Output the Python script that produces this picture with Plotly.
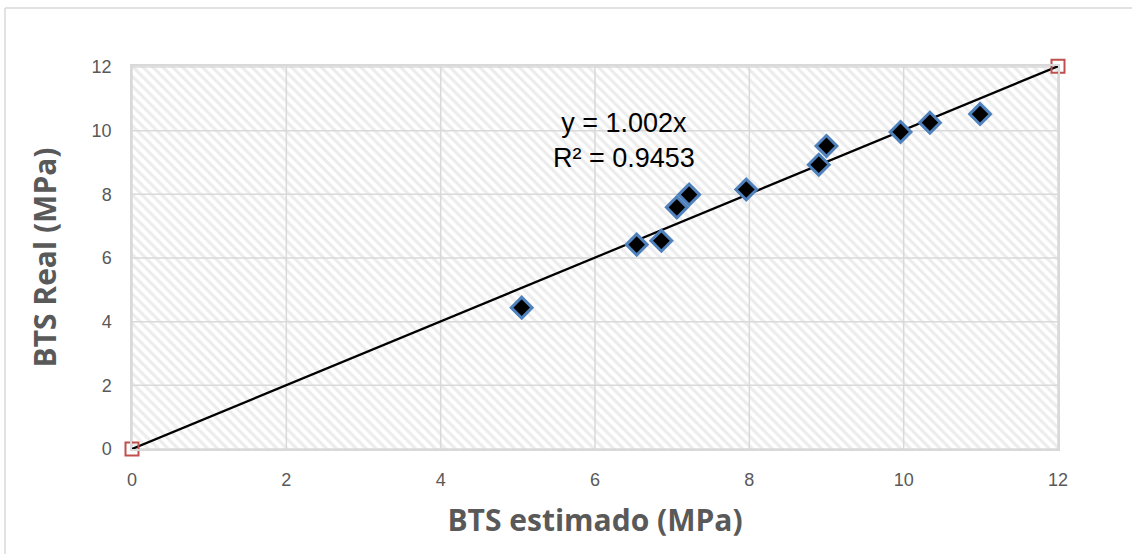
import plotly.graph_objects as go

# BTS estimado vs BTS real (MPa)
bts_estimado = [5.05, 6.54, 6.86, 7.06, 7.22, 7.96, 8.90, 9.00, 9.96, 10.34, 10.99]
bts_real = [4.44, 6.42, 6.54, 7.59, 7.99, 8.15, 8.93, 9.52, 9.96, 10.25, 10.52]

# Linear trend through the origin
slope = 1.002
r2 = 0.9453
trend_x = [0, 12]
tick_vals = [0, 2, 4, 6, 8, 10, 12]

W, H = 1132, 554
L, R, T, B = 132, 74, 66, 105
X_MAX, Y_MAX = 12, 12.03

fig = go.Figure()

# Hatched plot-area background
fig.add_trace(go.Scatter(
    x=[0, X_MAX, X_MAX, 0, 0], y=[0, 0, Y_MAX, Y_MAX, 0],
    mode="lines", line=dict(width=0, color="rgba(0,0,0,0)"),
    fill="toself", fillcolor="white",
    fillpattern=dict(shape="\\", fgcolor="#dadada", bgcolor="white", size=7, solidity=0.45),
    hoverinfo="skip", showlegend=False,
))

# Major gridlines drawn over the hatching
gx, gy = [], []
for v in tick_vals:
    gx += [v, v, None]
    gy += [0, Y_MAX, None]
    gx += [0, X_MAX, None]
    gy += [v, v, None]
fig.add_trace(go.Scatter(
    x=gx, y=gy, mode="lines", line=dict(color="#d9d9d9", width=1.5),
    hoverinfo="skip", showlegend=False,
))

# Trend line with square end markers
fig.add_trace(go.Scatter(
    x=trend_x, y=[slope * v for v in trend_x],
    mode="lines", line=dict(color="black", width=2.25),
    showlegend=False,
))
fig.add_trace(go.Scatter(
    x=trend_x, y=[slope * v for v in trend_x],
    mode="markers",
    marker=dict(symbol="square-open", size=13, color="#c0504d", line=dict(width=2)),
    cliponaxis=False, showlegend=False,
))

# Measured points
fig.add_trace(go.Scatter(
    x=bts_estimado, y=bts_real, mode="markers",
    marker=dict(symbol="diamond", size=16, color="black",
                line=dict(color="#4f81bd", width=3)),
    cliponaxis=False, showlegend=False,
))

fig.add_annotation(
    x=6.37, y=9.68, xref="x", yref="y",
    text=f"y = {slope:.3f}x<br>R² = {r2:.4f}",
    showarrow=False, align="center",
    font=dict(family="Liberation Sans", size=27, color="black"),
)

# Outer frame (top and left edges)
px = lambda p: (p - L) / (W - L - R)
py = lambda p: (H - B - p) / (H - T - B)
fig.add_shape(type="line", xref="paper", yref="paper",
              x0=px(5), x1=px(W + 5), y0=py(8), y1=py(8),
              line=dict(color="#d9d9d9", width=1.5))
fig.add_shape(type="line", xref="paper", yref="paper",
              x0=px(5), x1=px(5), y0=py(8), y1=py(H + 5),
              line=dict(color="#d9d9d9", width=1.5))

axis_common = dict(
    tickvals=tick_vals, showgrid=False,
    zeroline=False, showline=True, linecolor="#d9d9d9", linewidth=1.5, mirror=True,
    tickfont=dict(family="Liberation Sans", size=18, color="#595959"),
    ticks="",
)

fig.update_layout(
    width=W, height=H,
    margin=dict(l=L, r=R, t=T, b=B),
    paper_bgcolor="white", plot_bgcolor="white",
    xaxis=dict(**axis_common, range=[0, X_MAX], ticklabelstandoff=14,
               title=dict(text="<b>BTS estimado (MPa)</b>", standoff=21,
                          font=dict(family="Open Sans", size=30, color="#595959"))),
    yaxis=dict(**axis_common, range=[0, Y_MAX], ticklabelstandoff=15,
               title=dict(text="<b>BTS Real (MPa)</b>", standoff=26,
                          font=dict(family="Open Sans", size=30, color="#595959"))),
)

fig.write_html("out.html")
